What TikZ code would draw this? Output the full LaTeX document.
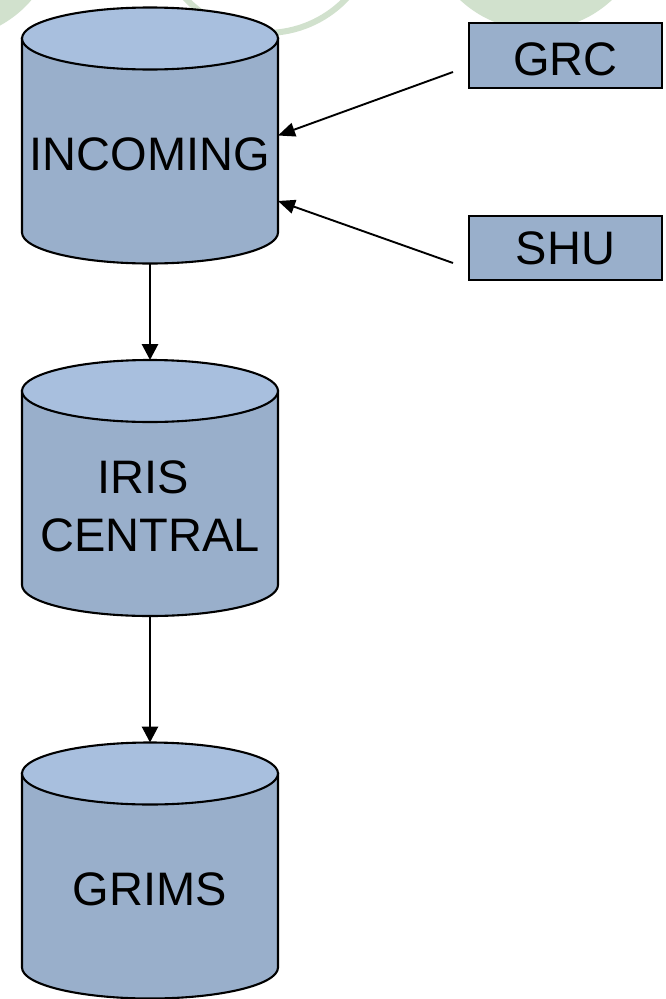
\documentclass[tikz,border=0pt]{standalone}
\usepackage{fontspec}
\setmainfont{Liberation Sans}
\usetikzlibrary{arrows.meta,calc}
\definecolor{topc}{RGB}{168,191,222}
\definecolor{bodyc}{RGB}{153,175,203}
\definecolor{deco}{RGB}{209,225,205}
\newcommand\mkcyl[3]{%
  \node[cylbox] (#1) at (#2,#3) {};
  \begin{scope}[shift={(#1.center)}]
    \path[cylline, fill=bodyc] (-128,97) -- (-128,-97)
      arc[start angle=180,end angle=360,x radius=128pt,y radius=31pt] -- (128,97) -- cycle;
    \path[cylline, fill=topc] (0,97) ellipse[x radius=128pt,y radius=31pt];
  \end{scope}}
\begin{document}
\begin{tikzpicture}[x=1pt,y=1pt,
  cylbox/.style={minimum width=256pt, minimum height=256pt, inner sep=0pt, outer sep=0pt},
  cylline/.style={draw=black, line width=2.1pt},
  dbtext/.style={font=\fontsize{47}{58}\selectfont, align=center, inner sep=0pt},
  srcbox/.style={draw=black, line width=2.1pt, fill=bodyc, minimum width=193pt, inner sep=0pt, outer sep=0pt, font=\fontsize{47}{56}\selectfont},
  flow/.style={-{Triangle[length=16pt,width=16pt]}, line width=2.9pt},
  feed/.style={-{Triangle[length=17pt,width=14pt]}, line width=1.9pt}]
\useasboundingbox[fill=white] (0,0) rectangle (665,-999);
% decorative background circles
\begin{scope}
  \clip (0,0) rectangle (665,-999);
  \fill[deco] (-53,72) circle[radius=111pt];
  \draw[deco, line width=6pt] (266,78) circle[radius=111pt];
  \fill[deco] (536,81) circle[radius=111pt];
\end{scope}
% databases
\mkcyl{inc}{150}{-135.5}
\mkcyl{iris}{150}{-488}
\mkcyl{grims}{150}{-870.5}
\node[dbtext] (inctxt) at ($(inc.center)+(0,-19)$) {INCOMING};
\node[dbtext] (iristxt) at ($(iris.center)+(0,-18.5)$) {IRIS\hphantom{\ }\\CENTRAL};
\node[dbtext] (grimstxt) at ($(grims.center)+(0,-18.5)$) {GRIMS};
% sources
\node[srcbox, minimum height=65pt, text height=40.5pt, text depth=0pt] (grc) at (565.5,-55.5) {GRC};
\node[srcbox, minimum height=64pt] (shu) at (565.5,-248) {SHU};
\coordinate (grcout) at ($(grc.west)+(-16,-16.5)$);
\coordinate (shuout) at ($(shu.west)+(-16,-15)$);
\coordinate (incin2) at ($(inc.east)+(0,-65.5)$);
% connectors
\draw[flow] (inc.south) -- (iris.north);
\draw[flow] (iris.south) -- (grims.north);
\draw[feed] (grcout) -- (inc.east);
\draw[feed] (shuout) -- (incin2);
\end{tikzpicture}
\end{document}
